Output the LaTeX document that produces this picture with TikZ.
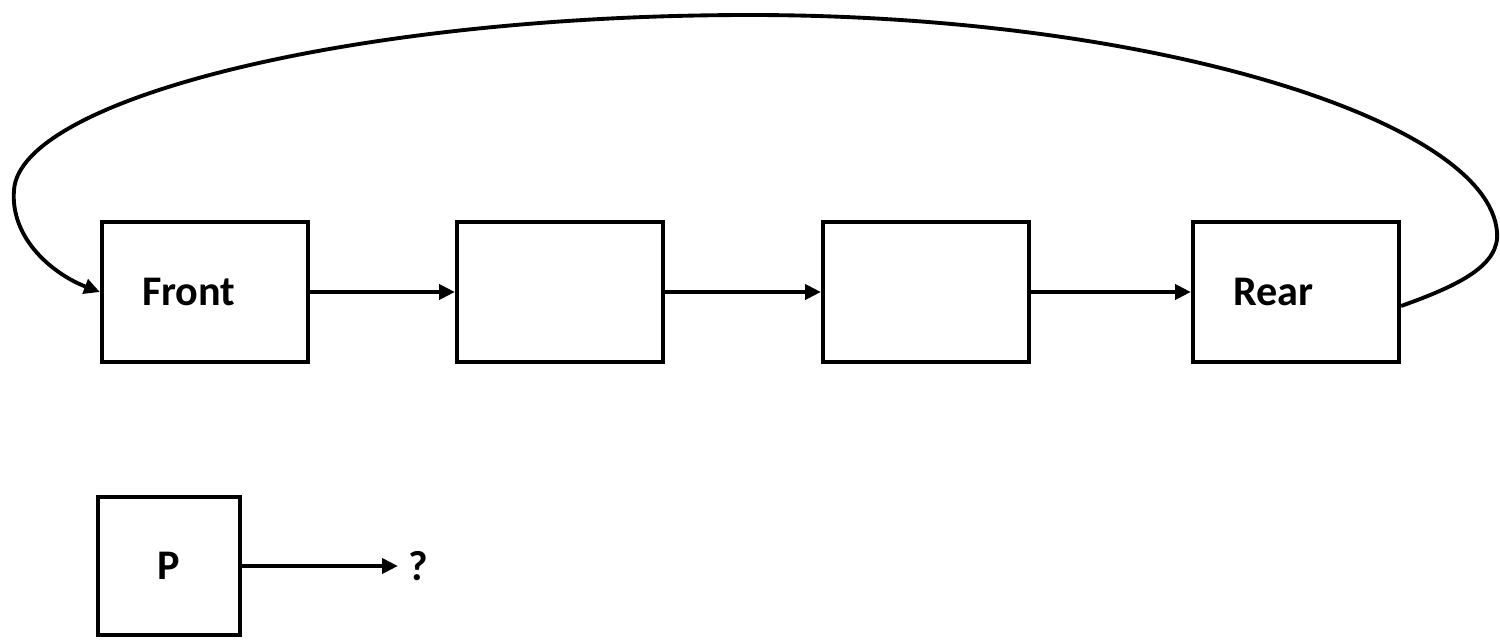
\documentclass[tikz,border=0pt]{standalone}
\usepackage{fontspec}
\setmainfont{Carlito}
\usetikzlibrary{arrows.meta,calc}
\begin{document}
\begin{tikzpicture}[x=0.02cm,y=-0.02cm,
  box/.style={draw, line width=2.4pt, minimum height=2.8cm, text width=2.52cm, inner xsep=0.8cm, align=left, font=\fontsize{24}{28}\selectfont\bfseries},
  pbox/.style={draw, line width=2.4pt, minimum width=2.84cm, minimum height=2.76cm, inner sep=0pt, font=\fontsize{24}{28}\selectfont\bfseries},
  conn/.style={line width=2.2pt, -{Triangle[length=9pt, width=8.5pt]}},
  lbl/.style={inner sep=0pt, font=\fontsize{24}{28}\selectfont\bfseries}]
\useasboundingbox (0,0) rectangle (1500,639);
\node[box] (front) at (205,292) {Front};
\node[box] (b2) at (560,292) {};
\node[box] (b3) at (926,292) {};
\node[box] (rear) at (1296,292) {Rear};
\node[pbox] (p) at (169,566) {P};
\node[lbl] (q) at (418,566) {?};
\draw[conn] (front) -- (b2);
\draw[conn] (b2) -- (b3);
\draw[conn] (b3) -- (rear);
\draw[conn] (p) -- ([xshift=-0.2cm]q.west);
\draw[conn] ($(rear.east)+(0,14)$) .. controls (1460,285) and (1500,265) .. (1497,232)
  .. controls (1488,120) and (1150,15) .. (750,15)
  .. controls (350,15) and (20,100) .. (14,190)
  .. controls (10,240) and (55,275) .. (front.west);
\end{tikzpicture}
\end{document}
